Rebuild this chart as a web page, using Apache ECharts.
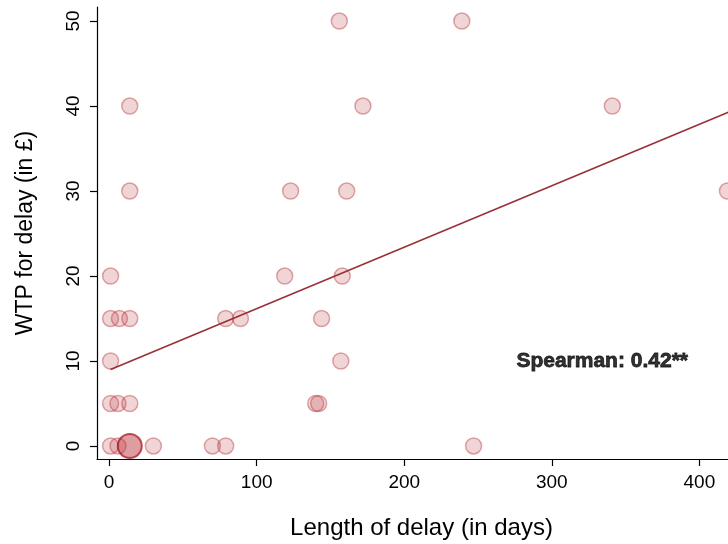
<!DOCTYPE html>
<html>
<head>
<meta charset="utf-8">
<title>WTP for delay vs length of delay</title>
<script src="https://cdn.jsdelivr.net/npm/echarts@6/dist/echarts.min.js"></script>
<style>
  html, body { margin: 0; padding: 0; background: #ffffff; }
  #chart { width: 728px; height: 544px; }
</style>
</head>
<body>
<div id="chart"></div>
<script>
// Individual responses: length of delay (days) and willingness to pay (GBP)
const delayDays = [
  1, 6, 30, 70, 79, 247,
  1, 6, 14, 140, 142,
  1, 157,
  1, 7, 14, 79, 89, 144,
  1, 119, 158,
  14, 123, 161, 419,
  14, 172, 341,
  156, 239
];
const wtpPounds = [
  0, 0, 0, 0, 0, 0,
  5, 5, 5, 5, 5,
  10, 10,
  15, 15, 15, 15, 15, 15,
  20, 20, 20,
  30, 30, 30, 30,
  40, 40, 40,
  50, 50
];

// The most frequent response, drawn as a heavier marker
const modeDelay = [14];
const modeWtp = [0];

// Linear fit end points
const fitDelay = [1, 420];
const fitWtp = [9.0, 39.3];

// Axis ticks
const xTicks = [0, 100, 200, 300, 400];
const yTicks = [0, 10, 20, 30, 40, 50];

// Annotation
const spearmanRho = 0.42;
const spearmanStars = '**';
const annotationAt = [276, 10];

const FONT = '"Liberation Sans", Arial, Helvetica, sans-serif';

const points = delayDays.map((d, i) => [d, wtpPounds[i]]);
const modePoints = modeDelay.map((d, i) => [d, modeWtp[i]]);
const fitLine = fitDelay.map((d, i) => [d, fitWtp[i]]);

const chart = echarts.init(document.getElementById('chart'), null, { renderer: 'canvas' });

chart.setOption({
  backgroundColor: '#ffffff',
  animation: false,
  grid: { left: 97, top: 7, right: 0, bottom: 85, containLabel: false, outerBoundsMode: 'none' },
  xAxis: {
    type: 'value',
    min: -8.2,
    max: 419.4,
    name: 'Length of delay (in days)',
    nameLocation: 'middle',
    nameGap: 57,
    nameTextStyle: { fontFamily: FONT, fontSize: 24, color: '#000', padding: [0, 0, 0, 18] },
    axisLine: { show: true, onZero: false, lineStyle: { color: '#000', width: 1.2 } },
    axisTick: { show: true, length: 7, customValues: xTicks, lineStyle: { color: '#000', width: 1.2 } },
    axisLabel: { customValues: xTicks, margin: 14, fontFamily: FONT, fontSize: 19, color: '#000' },
    splitLine: { show: false }
  },
  yAxis: {
    type: 'value',
    min: -1.53,
    max: 51.65,
    name: 'WTP for delay (in £)',
    nameLocation: 'middle',
    nameRotate: 90,
    nameGap: 60,
    nameTextStyle: { fontFamily: FONT, fontSize: 23, color: '#000' },
    axisLine: { show: true, onZero: false, lineStyle: { color: '#000', width: 1.2 } },
    axisTick: { show: true, length: 7, customValues: yTicks, lineStyle: { color: '#000', width: 1.2 } },
    axisLabel: { customValues: yTicks, rotate: 90, margin: 14, fontFamily: FONT, fontSize: 19, color: '#000' },
    splitLine: { show: false }
  },
  series: [
    {
      name: 'Linear fit',
      type: 'line',
      data: fitLine,
      showSymbol: false,
      symbol: 'none',
      lineStyle: { color: '#993035', width: 1.6 },
      silent: true,
      z: 3
    },
    {
      name: 'Responses',
      type: 'scatter',
      data: points,
      symbol: 'circle',
      symbolSize: 16,
      clip: false,
      itemStyle: {
        color: 'rgba(180,45,50,0.25)',
        borderColor: 'rgba(180,40,45,0.5)',
        borderWidth: 1.5
      },
      z: 2
    },
    {
      name: 'Most frequent',
      type: 'scatter',
      data: modePoints,
      symbol: 'circle',
      symbolSize: 24,
      itemStyle: {
        color: 'rgba(180,35,40,0.55)',
        borderColor: 'rgba(165,20,28,0.9)',
        borderWidth: 2
      },
      z: 4
    },
    {
      name: 'Annotation',
      type: 'scatter',
      data: [annotationAt],
      symbolSize: 0,
      itemStyle: { color: 'rgba(0,0,0,0)' },
      silent: true,
      label: {
        show: true,
        position: 'right',
        distance: 0,
        formatter: 'Spearman: ' + spearmanRho.toFixed(2) + spearmanStars,
        fontFamily: FONT,
        fontSize: 21,
        fontWeight: 'bold',
        color: '#000',
        textBorderColor: '#000',
        textBorderWidth: 0.8
      },
      z: 5
    }
  ]
});
</script>
</body>
</html>
